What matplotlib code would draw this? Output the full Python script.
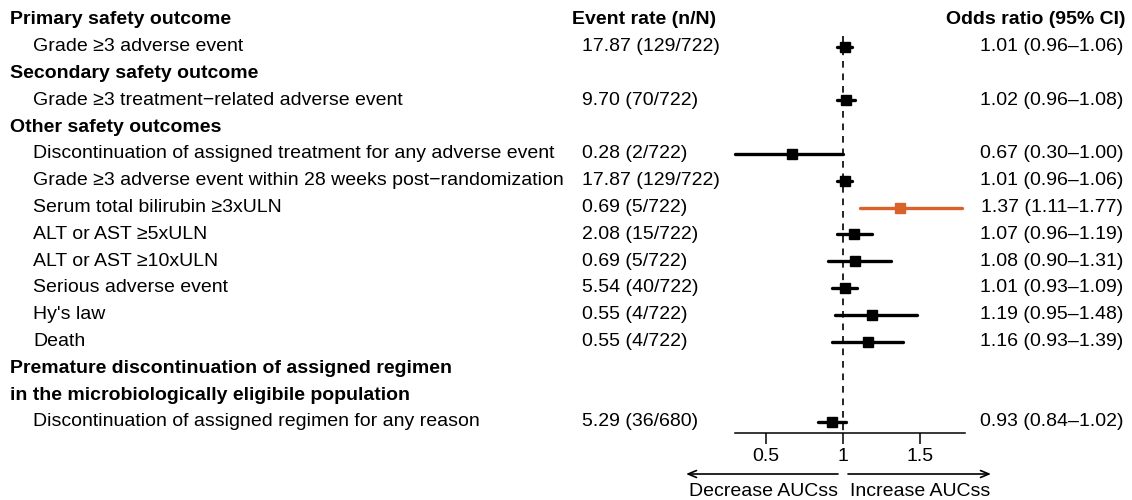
import matplotlib
matplotlib.use("Agg")
import matplotlib.pyplot as plt
import matplotlib.transforms as mtransforms

plt.rcParams['font.family'] = ['Liberation Sans', 'DejaVu Sans']

# ---- data ----
labels = [
    "Primary safety outcome",
    "Grade \u22653 adverse event",
    "Secondary safety outcome",
    "Grade \u22653 treatment\u2212related adverse event",
    "Other safety outcomes",
    "Discontinuation of assigned treatment for any adverse event",
    "Grade \u22653 adverse event within 28 weeks post\u2212randomization",
    "Serum total bilirubin \u22653xULN",
    "ALT or AST \u22655xULN",
    "ALT or AST \u226510xULN",
    "Serious adverse event",
    "Hy's law",
    "Death",
    "Premature discontinuation of assigned regimen",
    "in the microbiologically eligibile population",
    "Discontinuation of assigned regimen for any reason",
]
is_header = [True, False, True, False, True, False, False, False, False, False,
             False, False, False, True, True, False]
event_rate = ["", "17.87 (129/722)", "", "9.70 (70/722)", "", "0.28 (2/722)",
              "17.87 (129/722)", "0.69 (5/722)", "2.08 (15/722)", "0.69 (5/722)",
              "5.54 (40/722)", "0.55 (4/722)", "0.55 (4/722)", "", "", "5.29 (36/680)"]
or_est = [None, 1.01, None, 1.02, None, 0.67, 1.01, 1.37, 1.07, 1.08, 1.01, 1.19, 1.16,
          None, None, 0.93]
or_lo = [None, 0.96, None, 0.96, None, 0.30, 0.96, 1.11, 0.96, 0.90, 0.93, 0.95, 0.93,
         None, None, 0.84]
or_hi = [None, 1.06, None, 1.08, None, 1.00, 1.06, 1.77, 1.19, 1.31, 1.09, 1.48, 1.39,
         None, None, 1.02]
highlight = "Serum total bilirubin \u22653xULN"
xticks = [0.5, 1, 1.5]
xtick_labels = ["0.5", "1", "1.5"]

W, H = 1132, 500
fig = plt.figure(figsize=(W / 100, H / 100), dpi=100)

# axes geometry in pixels (from top)
ax_left_px, ax_right_px = 735, 965
ax_top_px, ax_bot_px = 10, 433
ax = fig.add_axes([ax_left_px / W, 1 - ax_bot_px / H,
                   (ax_right_px - ax_left_px) / W, (ax_bot_px - ax_top_px) / H])
px_per_unit = 154.0
x0 = 1 - (843 - ax_left_px) / px_per_unit
ax.set_xlim(x0, x0 + (ax_right_px - ax_left_px) / px_per_unit)
row0_px, row_h = 20.0, 26.8
ax.set_ylim((ax_bot_px - row0_px) / row_h, (ax_top_px - row0_px) / row_h)

for s in ['top', 'right', 'left']:
    ax.spines[s].set_visible(False)
ax.spines['bottom'].set_linewidth(1.1)
ax.set_yticks([])
ax.set_xticks(xticks)
ax.set_xticklabels(xtick_labels, fontsize=14)
ax.tick_params(axis='x', length=8, width=1.1, pad=3)
ax.patch.set_alpha(0)

# reference line
ax.vlines(1, 0.6, (ax_bot_px - row0_px) / row_h, colors='black',
          linestyles=(0, (4, 3.5)), linewidth=1.2)

trans = mtransforms.blended_transform_factory(fig.transFigure, ax.transData)
fs = 14
for i, lab in enumerate(labels):
    y = i
    if is_header[i]:
        ax.text(10 / W, y, lab, transform=trans, fontsize=fs, fontweight='bold',
                va='center', ha='left', clip_on=False)
    else:
        ax.text(33 / W, y, lab, transform=trans, fontsize=fs,
                va='center', ha='left', clip_on=False)
    if event_rate[i]:
        ax.text(582 / W, y, event_rate[i], transform=trans, fontsize=fs,
                va='center', ha='left', clip_on=False)
    if or_est[i] is not None:
        col = '#D9622B' if lab == highlight else 'black'
        ax.plot([or_lo[i], or_hi[i]], [y, y], color=col, lw=2.4,
                solid_capstyle='round', clip_on=False)
        ax.plot([or_est[i]], [y], marker='s', ms=7.5, color=col, clip_on=False)
        ax.text(1123 / W, y,
                f"{or_est[i]:.2f} ({or_lo[i]:.2f}\u2013{or_hi[i]:.2f})",
                transform=trans, fontsize=fs, va='center', ha='right', clip_on=False)

ax.text(572 / W, 0, "Event rate (n/N)", transform=trans, fontsize=fs,
        fontweight='bold', va='center', ha='left', clip_on=False)
ax.text(1126 / W, 0, "Odds ratio (95% CI)", transform=trans, fontsize=fs,
        fontweight='bold', va='center', ha='right', clip_on=False)

# direction arrows
ya = 1 - 474 / H
ax.annotate('', xy=(686 / W, ya), xytext=(838 / W, ya), xycoords='figure fraction',
            textcoords='figure fraction',
            arrowprops=dict(arrowstyle='->,head_length=0.6,head_width=0.25', lw=1.2,
                            shrinkA=0, shrinkB=0, color='black'))
ax.annotate('', xy=(991 / W, ya), xytext=(848 / W, ya), xycoords='figure fraction',
            textcoords='figure fraction',
            arrowprops=dict(arrowstyle='->,head_length=0.6,head_width=0.25', lw=1.2,
                            shrinkA=0, shrinkB=0, color='black'))
yt = 1 - 491 / H
fig.text(838 / W, yt, "Decrease AUCss", fontsize=fs, ha='right', va='center')
fig.text(850 / W, yt, "Increase AUCss", fontsize=fs, ha='left', va='center')

fig.savefig("out.png", dpi=100)
